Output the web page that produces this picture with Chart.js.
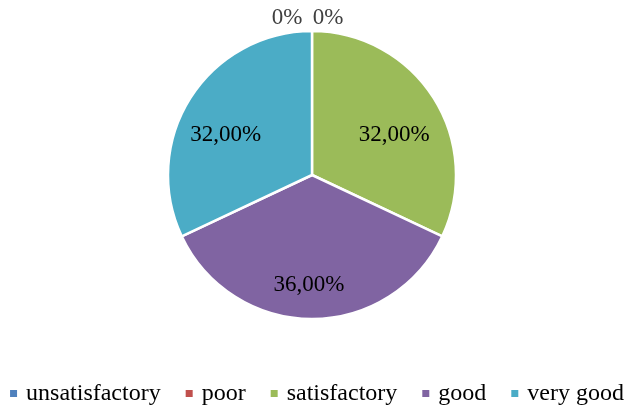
<!DOCTYPE html>
<html>
<head>
<meta charset="utf-8">
<script src="https://cdn.jsdelivr.net/npm/chart.js@4"></script>
<style>
html,body{margin:0;padding:0;background:#fff;overflow:hidden;width:628px;height:408px;}
#wrap{position:relative;width:628px;height:408px;overflow:hidden;}
#c{position:absolute;left:-22px;top:0;}
</style>
</head>
<body>
<div id="wrap"><canvas id="c" width="668" height="408"></canvas></div>
<script>
const categories = ['unsatisfactory', 'poor', 'satisfactory', 'good', 'very good'];
const shares = [0, 0, 32, 36, 32];
const colors = ['#4F81BD', '#C0504D', '#9BBB59', '#8064A2', '#4BACC6'];

// label placement style (fraction of radius, nudges)
const labelRadius = [1.1, 1.1, 0.66, 0.77, 0.66];
const labelDx = [-25, 16, 2, -3, -6];
const labelDy = [1, 1, 10.4, -1.4, 10.4];

const FONT = "'Liberation Serif', 'Times New Roman', serif";

function fmt(v, total) {
  if (v === 0) return '0%';
  return (v / total * 100).toFixed(2).replace('.', ',') + '%';
}

const sliceLabels = {
  id: 'sliceLabels',
  afterDatasetsDraw(chart) {
    const ctx = chart.ctx;
    const meta = chart.getDatasetMeta(0);
    const data = chart.data.datasets[0].data;
    const total = data.reduce((a, b) => a + b, 0);
    ctx.save();
    ctx.font = '23px ' + FONT;
    ctx.textAlign = 'center';
    ctx.textBaseline = 'middle';
    meta.data.forEach((arc, i) => {
      const p = arc.getProps(['x', 'y', 'startAngle', 'endAngle', 'outerRadius'], true);
      const mid = (p.startAngle + p.endAngle) / 2;
      const r = p.outerRadius * labelRadius[i];
      const x = p.x + Math.cos(mid) * r + labelDx[i];
      const y = p.y + Math.sin(mid) * r + labelDy[i];
      ctx.fillStyle = data[i] === 0 ? '#404040' : '#000000';
      ctx.fillText(fmt(data[i], total), x, y);
    });
    ctx.restore();
  }
};

const baseGen = Chart.overrides.pie.plugins.legend.labels.generateLabels;

new Chart(document.getElementById('c'), {
  type: 'pie',
  data: {
    labels: categories,
    datasets: [{
      data: shares,
      backgroundColor: colors,
      borderColor: '#ffffff',
      borderWidth: 2.5,
      radius: 144
    }]
  },
  options: {
    responsive: false,
    animation: false,
    devicePixelRatio: 1,
    layout: { padding: { top: 0, bottom: -7.5, left: 0, right: -13 } },
    plugins: {
      tooltip: { enabled: false },
      legend: {
        position: 'bottom',
        align: 'center',
        title: { display: true, text: '', padding: 0, font: { size: 3.5, lineHeight: 1 } },
        labels: {
          usePointStyle: true,
          pointStyle: 'rect',
          boxWidth: 1,
          boxHeight: 7,
          padding: 28,
          color: '#000000',
          font: { family: FONT, size: 24 },
          generateLabels(chart) {
            return baseGen(chart).map(it => Object.assign(it, { lineWidth: 0, strokeStyle: 'rgba(0,0,0,0)', pointStyle: 'rect' }));
          }
        }
      }
    }
  },
  plugins: [sliceLabels]
});
</script>
</body>
</html>
